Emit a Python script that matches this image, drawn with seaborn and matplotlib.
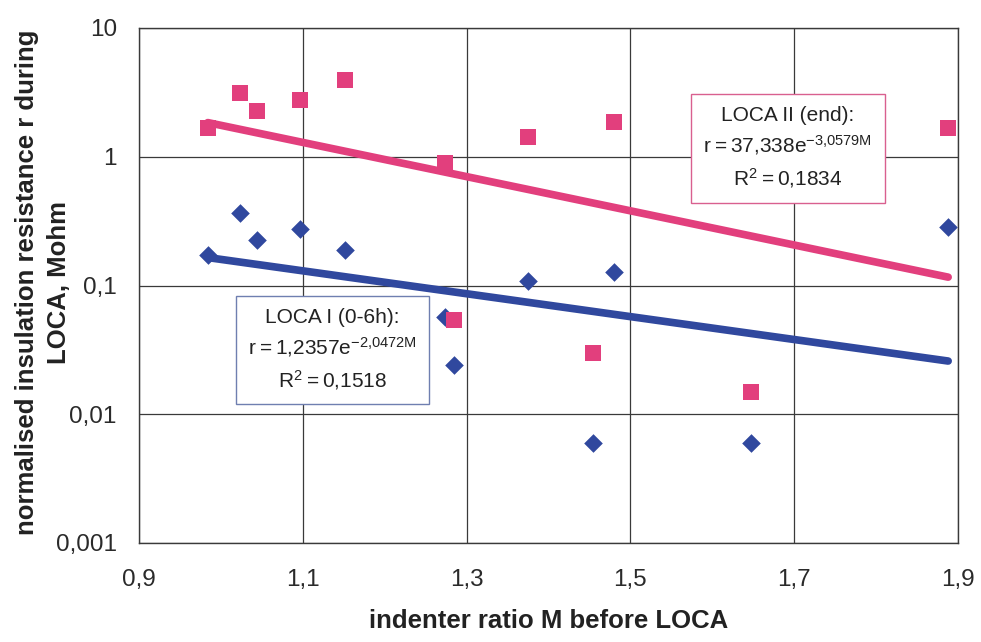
import numpy as np
import pandas as pd
import matplotlib
matplotlib.use("Agg")
import matplotlib.pyplot as plt
import seaborn as sns
from matplotlib.ticker import FixedLocator, FixedFormatter, NullLocator

# ---- data ----
M_values = [0.984, 1.023, 1.044, 1.097, 1.152, 1.274, 1.285, 1.375, 1.454, 1.480, 1.647, 1.888]
loca1_r = [0.172, 0.366, 0.226, 0.275, 0.189, 0.057, 0.024, 0.108, 0.0060, 0.127, 0.0060, 0.285]
loca2_r = [1.67, 3.13, 2.27, 2.76, 3.95, 0.89, 0.054, 1.42, 0.030, 1.86, 0.015, 1.67]

loca1_coef = (1.2357, -2.0472)
loca2_coef = (37.338, -3.0579)

x_ticks = [0.9, 1.1, 1.3, 1.5, 1.7, 1.9]
x_tick_labels = ["0,9", "1,1", "1,3", "1,5", "1,7", "1,9"]
y_ticks = [0.001, 0.01, 0.1, 1, 10]
y_tick_labels = ["0,001", "0,01", "0,1", "1", "10"]

PINK = "#e23f7d"
BLUE = "#30489e"

sns.set_theme(style="white")
plt.rcParams['font.family'] = ['Liberation Sans', 'DejaVu Sans']

fig = plt.figure(figsize=(9.81, 6.42), dpi=100)
ax = fig.add_axes([139/981, 1-543/642, (958-139)/981, (543-28)/642])

pts = pd.DataFrame({
    "M": M_values * 2,
    "r": loca1_r + loca2_r,
    "series": ["LOCA I"] * len(M_values) + ["LOCA II"] * len(M_values),
})

# trend lines
xs = np.linspace(min(M_values), max(M_values), 100)
trend = pd.DataFrame({
    "M": np.concatenate([xs, xs]),
    "r": np.concatenate([loca1_coef[0] * np.exp(loca1_coef[1] * xs),
                         loca2_coef[0] * np.exp(loca2_coef[1] * xs)]),
    "series": ["LOCA I"] * len(xs) + ["LOCA II"] * len(xs),
})

palette = {"LOCA I": BLUE, "LOCA II": PINK}

sns.scatterplot(data=pts[pts.series == "LOCA I"], x="M", y="r", color=BLUE,
                marker="D", s=90, linewidth=0, ax=ax, zorder=3, legend=False)
sns.scatterplot(data=pts[pts.series == "LOCA II"], x="M", y="r", color=PINK,
                marker="s", s=125, linewidth=0, ax=ax, zorder=3, legend=False)
sns.lineplot(data=trend, x="M", y="r", hue="series", palette=palette,
             linewidth=5.5, ax=ax, legend=False, zorder=4,
             solid_capstyle="round")

ax.set_yscale("log")
ax.set_xlim(0.9, 1.9)
ax.set_ylim(0.001, 10)
ax.xaxis.set_major_locator(FixedLocator(x_ticks))
ax.xaxis.set_major_formatter(FixedFormatter(x_tick_labels))
ax.yaxis.set_major_locator(FixedLocator(y_ticks))
ax.yaxis.set_major_formatter(FixedFormatter(y_tick_labels))
ax.yaxis.set_minor_locator(NullLocator())

ax.grid(True, which="major", color="#3a3a3a", linewidth=0.9)
for s in ax.spines.values():
    s.set_color("#3a3a3a")
    s.set_linewidth(1.0)
ax.tick_params(axis="both", which="major", direction="out", length=7, width=0.9,
               color="#3a3a3a", labelsize=17.5, labelcolor="#2a2a2a")
ax.tick_params(axis="x", pad=12)
ax.tick_params(axis="y", pad=9)

ax.set_xlabel("indenter ratio M before LOCA", fontsize=18.5, fontweight="bold",
              color="#222222")
ax.xaxis.set_label_coords(0.5, (543 - 609) / 515)
ax.set_ylabel("normalised insulation resistance r during\nLOCA, Mohm", fontsize=18.5,
              fontweight="bold", color="#222222", linespacing=1.4)
ax.yaxis.label.set_va("center")
ax.yaxis.set_label_coords((43 - 139) / 819, (543 - 282) / 515)

# equation boxes
ax.text(1.692, 1.17,
        "LOCA II (end):\n$\\mathregular{r = 37{,}338e^{-3{,}0579M}}$\n$\\mathregular{R^2 = 0{,}1834}$",
        fontsize=15, ha="center", va="center", linespacing=1.45, color="#222222",
        bbox=dict(boxstyle="square,pad=0.6", facecolor="white", edgecolor="#d9608f",
                  linewidth=1.0), zorder=5)
ax.text(1.136, 0.0316,
        "LOCA I (0-6h):\n$\\mathregular{r = 1{,}2357e^{-2{,}0472M}}$\n$\\mathregular{R^2 = 0{,}1518}$",
        fontsize=15, ha="center", va="center", linespacing=1.45, color="#222222",
        bbox=dict(boxstyle="square,pad=0.6", facecolor="white", edgecolor="#6f7fb0",
                  linewidth=1.0), zorder=5)

fig.savefig("out.png", dpi=100)
